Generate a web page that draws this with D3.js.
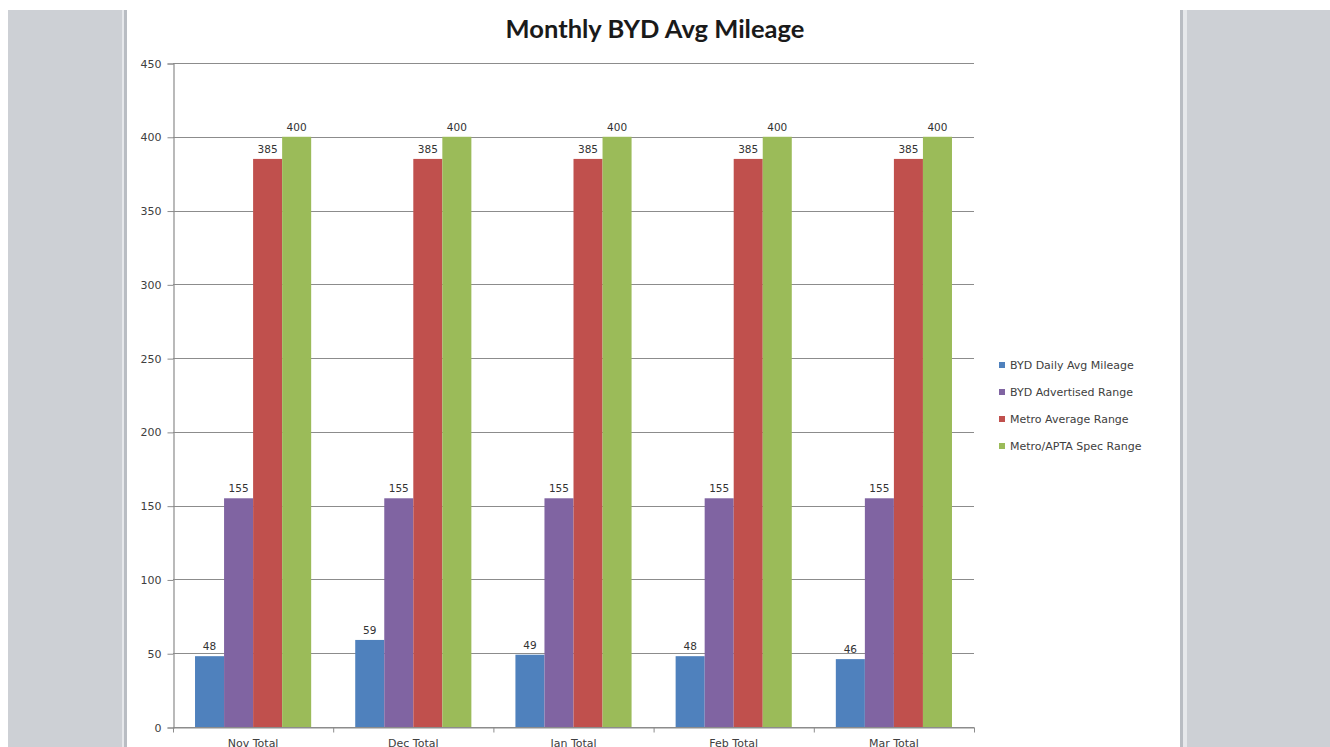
<!DOCTYPE html>
<html>
<head>
<meta charset="utf-8">
<script src="https://cdn.jsdelivr.net/npm/d3@7"></script>
<style>
  body { margin: 0; background: #fff; }
  svg { display: block; }
  .tick text { fill: #404040; }
</style>
</head>
<body>
<svg id="chart" width="1330" height="747"></svg>
<script>
// chart values
var months = ["Nov Total", "Dec Total", "Jan Total", "Feb Total", "Mar Total"]
var seriesNames = ["BYD Daily Avg Mileage", "BYD Advertised Range", "Metro Average Range", "Metro/APTA Spec Range"]
var dailyAvg = [48, 59, 49, 48, 46]
var advertised = [155, 155, 155, 155, 155]
var metroAvg = [385, 385, 385, 385, 385]
var aptaSpec = [400, 400, 400, 400, 400]
var yTicks = [0, 50, 100, 150, 200, 250, 300, 350, 400, 450]
var colors = ["#4f81bd", "#8064a2", "#c0504d", "#9bbb59"]

var allSeries = [dailyAvg, advertised, metroAvg, aptaSpec]

var svg = d3.select("#chart")
var W = 1330, H = 747

// page frame: gray side panels like the document viewer
svg.append("rect").attr("x", 8).attr("y", 10).attr("width", 114).attr("height", H - 10).attr("fill", "#cdd0d5")
svg.append("rect").attr("x", 122).attr("y", 10).attr("width", 2).attr("height", H - 10).attr("fill", "#e6e8eb")
svg.append("rect").attr("x", 124).attr("y", 10).attr("width", 3).attr("height", H - 10).attr("fill", "#b9bdc3")
svg.append("rect").attr("x", 1180).attr("y", 10).attr("width", 3).attr("height", H - 10).attr("fill", "#b9bdc3")
svg.append("rect").attr("x", 1183).attr("y", 10).attr("width", 4).attr("height", H - 10).attr("fill", "#e6e8eb")
svg.append("rect").attr("x", 1187).attr("y", 10).attr("width", W - 1187).attr("height", H - 10).attr("fill", "#cdd0d5")

var plotLeft = 173, plotRight = 974, plotTop = 63, plotBottom = 727

var x = d3.scaleBand()
    .domain(months)
    .range([plotLeft, plotRight])
    .paddingInner(0.275)
    .paddingOuter(0.1375)

var xs = d3.scaleBand()
    .domain(seriesNames)
    .range([0, x.bandwidth()])

var y = d3.scaleLinear()
    .domain([0, 450])
    .range([plotBottom, plotTop])

// gridlines
svg.append("g")
    .selectAll("line")
    .data(yTicks)
    .join("line")
    .attr("x1", plotLeft)
    .attr("x2", plotRight)
    .attr("y1", d => Math.round(y(d)) + 0.5)
    .attr("y2", d => Math.round(y(d)) + 0.5)
    .attr("stroke", "#8c8c8c")
    .attr("stroke-width", 1.2)

// y axis
var yAxis = svg.append("g")
    .attr("transform", "translate(" + (plotLeft + 0.5) + ",0.5)")
    .call(d3.axisLeft(y).tickValues(yTicks).tickSize(6).tickPadding(6))
yAxis.select(".domain").attr("stroke", "#8c8c8c").attr("stroke-width", 1.2)
yAxis.selectAll(".tick line").attr("stroke", "#8c8c8c")
yAxis.selectAll(".tick text")
    .attr("font-family", "DejaVu Sans")
    .attr("font-size", 11)

// bars
var groups = svg.append("g")
    .selectAll("g")
    .data(months)
    .join("g")
    .attr("transform", d => "translate(" + x(d) + ",0)")

groups.selectAll("rect")
    .data((m, i) => seriesNames.map((s, j) => ({ s: s, v: allSeries[j][i], c: colors[j] })))
    .join("rect")
    .attr("x", d => xs(d.s))
    .attr("width", xs.bandwidth())
    .attr("y", d => y(d.v))
    .attr("height", d => y(0) - y(d.v))
    .attr("fill", d => d.c)

// data labels
groups.selectAll("text")
    .data((m, i) => seriesNames.map((s, j) => ({ s: s, v: allSeries[j][i] })))
    .join("text")
    .attr("x", d => xs(d.s) + xs.bandwidth() / 2)
    .attr("y", d => y(d.v) - 6)
    .attr("text-anchor", "middle")
    .attr("font-family", "DejaVu Sans")
    .attr("font-size", 10.5)
    .attr("fill", "#333")
    .text(d => d.v)

// x axis
var xAxis = svg.append("g")
    .attr("transform", "translate(0," + (plotBottom + 0.5) + ")")
    .call(d3.axisBottom(x).tickSize(0).tickPadding(12))
xAxis.select(".domain").attr("stroke", "#8c8c8c").attr("stroke-width", 1.2)
xAxis.selectAll(".tick text")
    .attr("font-family", "DejaVu Sans")
    .attr("font-size", 11)

// tick marks between categories
var bounds = d3.range(months.length + 1).map(i => plotLeft + i * x.step())
xAxis.append("g")
    .selectAll("line")
    .data(bounds)
    .join("line")
    .attr("x1", d => d + 0.5)
    .attr("x2", d => d + 0.5)
    .attr("y1", 0)
    .attr("y2", 5)
    .attr("stroke", "#8c8c8c")

// title
svg.append("text")
    .attr("x", 655)
    .attr("y", 38)
    .attr("text-anchor", "middle")
    .attr("font-family", "Lato")
    .attr("font-weight", "bold")
    .attr("font-size", 25.5)
    .attr("fill", "#1a1a1a")
    .text("Monthly BYD Avg Mileage")

// legend
var legend = svg.append("g")
    .attr("transform", "translate(999,365)")
var items = legend.selectAll("g")
    .data(seriesNames)
    .join("g")
    .attr("transform", (d, i) => "translate(0," + (i * 27) + ")")
items.append("rect")
    .attr("x", 0)
    .attr("y", -3)
    .attr("width", 6)
    .attr("height", 6)
    .attr("fill", (d, i) => colors[i])
items.append("text")
    .attr("x", 11)
    .attr("y", 0)
    .attr("dy", "0.35em")
    .attr("font-family", "DejaVu Sans")
    .attr("font-size", 11)
    .attr("fill", "#404040")
    .text(d => d)
</script>
</body>
</html>
